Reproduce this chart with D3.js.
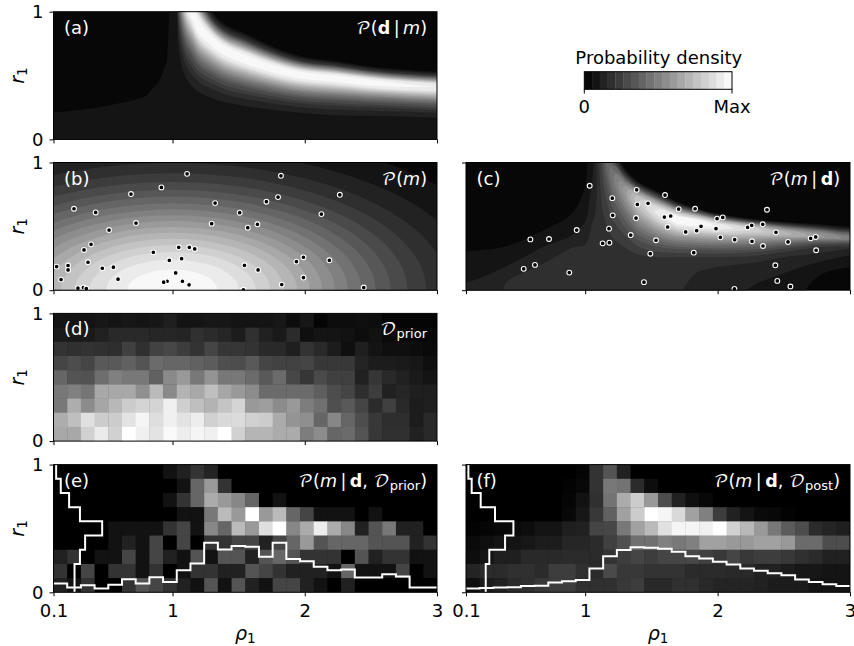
<!DOCTYPE html>
<html>
<head>
<meta charset="utf-8">
<title>Probability density panels</title>
<script src="https://cdn.jsdelivr.net/npm/d3@7"></script>
<style>
body { margin: 0; background: #fff; }
text { font-family: "DejaVu Sans", sans-serif; }
.math { font-family: "DejaVu Math TeX Gyre", "DejaVu Sans", serif; }
</style>
</head>
<body>
<div id="chart"></div>
<script>
var rhoTicks = [0.1, 1, 2, 3];
var rTicks = [0, 1];

// panels a and c are read along the bright ridge: a node t means r = ridge + t * width
// (low width under the ridge, up width over it), values are colour band units 0 to 19
var tNodes = [-9, -5, -3, -1.5, -1.25, -1, -.8, -.6, -.45, -.3, -.15, 0, .25, .5, .75, 1, 1.3, 4];

var aRho = [0.1, 0.5, 0.8, 0.9, 0.96, 0.98, 1.0, 1.033, 1.05, 1.1, 1.15, 1.2, 1.3, 1.4, 1.55, 1.7, 1.85, 2, 2.25, 2.5, 2.75, 3];
var aRidge = [1.2, 1.2, 1.2, 1.5, 2.5, 3, 3, 2.5, 1.45, 1.12, .99, .875, .77, .695, .63, .575, .53, .5, .477, .447, .425, .41];
var aLow = [.79, .75, .7, .8, 1.5, 1.5, 1.5, 1.5, .77, .635, .575, .505, .445, .405, .37, .335, .31, .295, .287, .262, .245, .24];
var aUp = [.5, .5, .5, .5, 1, 1, 1, 1, 1, .6, .5, .35, .23, .205, .2, .18, .16, .145, .133, .123, .12, .12];
var aRidgeValues = [1.4, 1.4, 1.4, 1.45, 1.6, 2, 3.3, 6, 9, 13, 17.5, 19, 17.5, 10.5, 4, 1, .6, .5];
var aValues = [
  [1.4,1.4,1.4,1.3,1,.8,.7,.6,.55,.5,.5,.5,.5,.5,.5,.5,.5,.5],
  [1.4,1.4,1.4,1.3,1,.8,.7,.6,.5,.5,.5,.5,.5,.5,.5,.5,.5,.5],
  [1.4,1.4,1.4,1.3,1.02,.8,.7,.6,.5,.5,.5,.5,.5,.5,.5,.5,.5,.5],
  [1.4,1.4,1.4,1.2,.95,.7,.6,.6,.5,.5,.5,.5,.5,.5,.5,.5,.5,.5],
  [1.4,1.4,1.4,1.3,1,.8,.6,.6,.5,.5,.5,.5,.5,.5,.5,.5,.5,.5],
  [1.4,1.4,1.4,1.2,1,.8,.6,.6,.5,.5,.5,.5,.5,.5,.5,.5,.5,.5],
  aRidgeValues, aRidgeValues, aRidgeValues, aRidgeValues, aRidgeValues, aRidgeValues, aRidgeValues, aRidgeValues,
  aRidgeValues, aRidgeValues, aRidgeValues, aRidgeValues, aRidgeValues, aRidgeValues,
  [1.4,1.4,1.4,1.45,1.6,2,3.3,6,8.9,12.8,17.2,18.5,17.2,10.3,4,1,.6,.5],
  [1.4,1.4,1.4,1.45,1.6,2,3.3,6,8.8,12.6,16.8,18,16.8,10,4,1,.6,.5]
];

var cRho = [0.1, 0.4, 0.7, 0.9, 1.0, 1.05, 1.1, 1.15, 1.2, 1.3, 1.4, 1.55, 1.7, 1.85, 2, 2.25, 2.5, 2.75, 3];
var cRidge = [1.2, 1.2, 1.2, 1.5, 2.5, 1.45, 1.12, 1.02, .875, .77, .69, .6, .54, .52, .495, .47, .44, .42, .4];
var cLow = [.79, .75, .7, .8, 1.5, .81, .6, .47, .455, .435, .41, .34, .28, .26, .235, .205, .14, .085, .055];
var cUp = [.5, .5, .5, .5, 1, 1, .6, .5, .3, .183, .16, .17, .15, .12, .105, .09, .096, .098, .097];
var cValues = [
  [2.4,2.4,2.4,2.2,1.35,.6,.3,.1,.1,.1,.1,.1,.1,.1,.1,.1,.1,.1],
  [6,6,6,2.95,1.35,.55,.35,.2,.1,.1,.1,.1,.1,.1,.1,.1,.1,.1],
  [3.9,3.9,3.9,3.5,2.2,.8,.5,.3,.2,.1,.1,.1,.1,.1,.1,.1,.1,.1],
  [3.8,3.8,3.8,3.3,1.3,.7,.4,.2,.1,.1,.1,.1,.1,.1,.1,.1,.1,.1],
  [3.8,3.8,3.8,3.6,1.5,.5,.3,.2,.1,.1,.1,.1,.1,.1,.1,.1,.1,.1],
  [3.8,3.8,3.8,3.65,3.3,2.55,2,1.65,1.5,1.5,1.5,1.5,1.5,1.5,1.5,1,.35,.1],
  [3.8,3.8,3.8,3.75,3.6,3.5,3.5,3.5,3.5,3.6,3.8,4,4,4,3,1,.35,.1],
  [3.8,3.8,3.8,3.8,3.85,4,4.36,4.9,5.4,6,6.6,7,6.7,5,2.3,1,.35,.1],
  [3.7,3.7,3.7,3.7,3.75,4,4.5,5.35,6.1,7,7.9,8.5,8.2,6.1,2.8,1,.35,.1],
  [3.7,3.7,3.7,3.7,3.8,4,4.9,6.25,7.5,9,10.5,11.5,11,8.3,3.8,1,.35,.1],
  [3.7,3.7,3.7,3.7,3.7,4,5.3,7.3,9.2,11.3,13.6,15,14.4,10.8,5,1,.35,.1],
  [3.2,3.2,3.2,3.45,3.6,4,5.6,8,10.3,12.9,15.7,17.5,16.8,12.6,5.8,1,.35,.1],
  [2.6,2.6,2.6,3.3,3.6,4,5.8,8.5,11,13.9,17,19,18.2,13.7,6.3,1,.35,.1],
  [2.5,2.5,2.5,2.95,3.2,4,5.8,8.5,11,13.9,17,19,18.2,13.7,6.3,1,.35,.1],
  [1.96,1.96,1.96,2.8,3.1,4,5.7,8.2,10.6,13.2,16.2,18,17.3,13,5.9,1,.35,.1],
  [1.4,1.4,1.4,2.5,3,4,5.4,7.6,9.6,11.9,14.4,16,15.4,11.5,5.3,1,.35,.1],
  [1.3,1.3,1.3,2.6,3.1,4,5.1,6.85,8.5,10.3,12.3,13.5,13,9.7,4.5,1,.35,.1],
  [.5,.5,1.3,3.05,3.5,4,4.9,6.25,7.5,9,10.5,11.5,11,8.3,3.8,1,.35,.1],
  [.5,.75,1.25,2.9,3.1,4,4.7,5.65,6.6,7.6,8.8,9.5,9.1,6.8,3.1,1,.35,.1]
];

// panel b bands are ellipses round rho = 1, r = 0: half width in rho and half height in r, level 1 first
var bCenter = [1, 0];
var bHalfRho = [2.64, 2.308, 2.09, 1.919, 1.776, 1.649, 1.535, 1.428, 1.326, 1.229, 1.133, 1.038, .942, .844, .74, .629, .502, .34];
var bHalfR = [1.26, 1.1, .997, .916, .847, .787, .733, .681, .633, .587, .541, .495, .45, .403, .353, .3, .24, .162];

// scattered models [rho, r]
var bPoints = [[1.11,.911],[1.82,.896],[.916,.805],[.686,.753],[2.265,.747],[1.798,.729],[1.71,.693],[1.322,.682],[.255,.638],[.419,.609],
  [1.508,.607],[2.126,.596],[.724,.526],[1.296,.521],[1.642,.516],[1.569,.49],[.52,.471],[.384,.359],[1.047,.336],[1.127,.336],
  [1.168,.323],[.331,.315],[.855,.297],[.976,.234],[1.069,.247],[1.99,.258],[2.186,.234],[1.937,.224],[.361,.219],[1.544,.195],
  [.124,.185],[.21,.193],[.21,.159],[.553,.18],[.469,.172],[1.647,.159],[1.024,.135],[1.99,.099],[.157,.083],[.588,.086],
  [1.075,.07],[.959,.07],[.933,.063],[1.125,.042],[1.826,.044],[.326,.021],[.285,.016],[.348,.013],[2.446,.021],[1.536,.003]];
var cPoints = [[1.034,.818],[1.389,.786],[1.603,.745],[1.205,.721],[1.394,.672],[1.475,.68],[1.706,.635],[1.83,.638],[2.373,.63],[1.208,.586],
  [1.384,.565],[1.598,.573],[1.646,.581],[1.996,.56],[2.039,.57],[1.623,.495],[1.875,.5],[1.842,.466],[1.759,.456],[1.988,.482],
  [.936,.471],[1.18,.482],[2.227,.492],[2.258,.508],[2.341,.516],[2.441,.453],[1.344,.432],[2.021,.414],[2.703,.406],[2.741,.417],
  [.586,.398],[.727,.401],[1.535,.391],[2.129,.396],[2.26,.383],[2.532,.378],[1.132,.367],[1.183,.372],[2.343,.346],[1.492,.286],
  [1.82,.294],[2.744,.313],[.621,.198],[.536,.167],[2.436,.195],[.88,.138],[1.444,.063],[2.451,.073],[2.55,.029],[2.127,.01]];

// binned panels, brightness in percent of max, rows from top (r = 1) to bottom
var dCells = [
  [8,8,8,9,8,9,8,9,12,8,8,9,9,8,8,8,9,5,9,2,5,5,6,5,2,2,2,2],
  [10,10,10,13,16,16,16,15,15,14,19,17,15,11,19,13,10,17,6,8,8,7,5,7,4,4,3,3],
  [20,19,20,19,18,25,19,26,28,24,20,27,21,21,20,16,16,12,20,16,11,6,12,8,6,6,5,4],
  [27,30,27,35,35,38,33,42,40,40,38,36,31,30,35,27,26,26,27,22,22,22,14,11,11,10,9,6],
  [40,33,32,43,50,47,47,38,54,60,47,58,47,47,42,35,42,28,21,29,25,25,13,21,16,13,10,8],
  [47,50,46,66,66,66,56,73,54,70,66,75,65,60,55,42,42,42,42,37,30,27,18,24,13,15,12,12],
  [47,68,55,65,72,80,83,83,94,81,75,70,77,83,60,62,55,60,49,44,31,35,27,17,25,16,11,12],
  [68,75,88,80,80,89,96,87,94,89,93,82,85,86,82,80,67,58,56,40,53,40,30,22,18,18,11,16],
  [66,66,82,92,82,100,94,89,98,93,96,94,100,82,71,71,67,67,49,55,40,42,33,22,19,19,13,16]
];
var eCells = [
  [0,0,0,0,0,0,0,0,7,13,20,14,0,0,0,0,0,0,0,0,0,0,0,0,0,0,0,0],
  [0,0,0,0,0,0,0,0,0,7,40,60,20,0,0,0,0,0,0,0,0,0,0,0,0,0,0,0],
  [0,0,0,0,0,0,0,0,7,20,40,67,60,53,40,0,7,0,0,0,0,0,0,0,0,0,0,0],
  [0,0,0,0,0,0,0,0,0,7,7,47,73,60,100,60,73,40,27,7,7,7,0,7,0,0,0,0],
  [0,0,0,0,7,7,7,7,20,27,7,53,40,73,60,87,100,53,67,93,67,53,13,33,47,13,13,0],
  [0,0,0,0,7,13,7,27,0,27,0,20,20,27,27,13,27,40,60,33,40,40,40,33,33,33,13,20],
  [13,20,0,7,7,27,7,27,13,7,33,7,33,33,13,33,40,33,20,20,20,0,33,13,20,20,7,7],
  [20,0,27,0,20,20,7,20,0,7,20,20,13,13,33,27,20,13,13,13,7,40,7,7,7,27,0,7],
  [13,7,20,0,0,20,33,27,20,13,7,33,7,33,13,7,27,27,13,7,0,13,0,0,0,0,0,0]
];
var fCells = [
  [0,0,0,0,0,0,0,0,2,20,33,13,0,0,0,0,0,0,0,0,0,0,0,0,0,0,0,0],
  [0,0,0,0,0,0,0,1,3,20,47,45,17,5,0,0,0,0,0,0,0,0,0,0,0,0,0,0],
  [0,0,0,0,0,0,0,2,7,19,45,67,80,60,30,13,6,3,0,0,0,0,0,0,0,0,0,0],
  [0,0,0,0,0,0,0,3,9,22,38,63,80,100,96,85,63,50,24,13,8,4,3,1,0,0,0,0],
  [1,2,3,4,5,8,8,12,13,27,28,47,63,73,88,96,96,94,100,82,72,60,47,36,30,17,14,12],
  [4,6,8,8,9,11,11,15,15,17,25,31,44,44,50,47,50,63,63,60,60,63,63,60,42,42,30,30],
  [5,8,12,12,16,16,16,17,17,17,20,24,27,24,27,27,28,25,22,27,22,24,24,22,19,17,13,13],
  [14,17,17,19,19,17,24,24,19,17,29,22,22,20,20,20,17,17,17,16,16,13,13,11,9,9,8,8],
  [6,11,13,17,19,22,24,24,19,19,19,22,24,16,16,19,19,16,14,14,14,13,11,11,11,8,8,8]
];

// marginal histograms drawn in white over panels e and f
var eRhoHist = [.068,.037,.055,.029,.06,.102,.068,.118,.081,.173,.226,.388,.336,.362,.357,.278,.388,.26,.244,.2,.173,.178,.115,.115,.142,.123,.037,.037];
var eRHist = [.12,.155,.218,.30,.468,.339,.30,.259,.259];
var fRhoHist = [.029,.034,.037,.039,.05,.052,.076,.087,.097,.186,.283,.331,.352,.349,.341,.318,.283,.265,.239,.218,.186,.168,.15,.134,.1,.081,.063,.05];
var fRHist = [.118,.143,.211,.319,.458,.395,.276,.249,.249];

var barTicks = ["0", "Max"];
var barBands = d3.range(19);

var width = 854, height = 646;
var panelH = 127.7;
var leftX = [53.5, 437], rightX = [466, 850];
var tops = [11.7, 162.5, 313.4, 464.6];
var fontSize = 18;

function bandColor(i) {
  var c = Math.round((i + .5) / 19 * 255);
  return "rgb(" + c + "," + c + "," + c + ")";
}
var cellColor = d3.scaleLinear().domain([0, 100]).range(["#000", "#fff"]);

var svg = d3.select("#chart").append("svg")
  .attr("width", width)
  .attr("height", height);

var clipCount = 0;

function makePanel(xRange, top, showRhoLabels, showRLabels) {
  var x = d3.scaleLinear().domain([0.1, 3]).range(xRange);
  var y = d3.scaleLinear().domain([0, 1]).range([top + panelH, top]);
  var id = "clip" + (clipCount++);
  svg.append("clipPath").attr("id", id).append("rect")
    .attr("x", xRange[0]).attr("y", top)
    .attr("width", xRange[1] - xRange[0]).attr("height", panelH);
  var marks = svg.append("g").attr("clip-path", "url(#" + id + ")");
  marks.append("rect")
    .attr("x", xRange[0]).attr("y", top)
    .attr("width", xRange[1] - xRange[0]).attr("height", panelH)
    .attr("fill", bandColor(0));
  return {x: x, y: y, marks: marks, top: top, xRange: xRange, showRho: showRhoLabels, showR: showRLabels};
}

function finishPanel(p) {
  svg.append("rect")
    .attr("x", p.xRange[0]).attr("y", p.top)
    .attr("width", p.xRange[1] - p.xRange[0]).attr("height", panelH)
    .attr("fill", "none").attr("stroke", "#000").attr("stroke-width", 1);
  var xAxis = d3.axisBottom(p.x).tickValues(rhoTicks).tickSize(4).tickPadding(8.2)
    .tickFormat(p.showRho ? d3.format("") : "");
  var yAxis = d3.axisLeft(p.y).tickValues(rTicks).tickSize(4).tickPadding(6)
    .tickFormat(p.showR ? d3.format("d") : "");
  var gx = svg.append("g").attr("transform", "translate(0," + (p.top + panelH) + ")").call(xAxis);
  var gy = svg.append("g").attr("transform", "translate(" + p.xRange[0] + ",0)").call(yAxis);
  [gx, gy].forEach(function (a) {
    a.select(".domain").remove();
    a.selectAll("text").attr("font-size", fontSize).attr("fill", "#000")
      .attr("font-family", '"DejaVu Sans", sans-serif');
  });
  if (p.showR) {
    var lab = svg.append("text")
      .attr("transform", "translate(24," + (p.top + panelH / 2) + ") rotate(-90)")
      .attr("text-anchor", "middle").attr("font-size", 19);
    lab.append("tspan").attr("font-style", "italic").text("r");
    lab.append("tspan").attr("font-size", 13.5).attr("dy", 3).text("1");
  }
  if (p.showRho) {
    var mid = (p.xRange[0] + p.xRange[1]) / 2;
    var labx = svg.append("text").attr("x", mid).attr("y", 640)
      .attr("text-anchor", "middle").attr("font-size", 19);
    labx.append("tspan").attr("font-style", "italic").text("ρ");
    labx.append("tspan").attr("font-size", 13.5).attr("dy", 3).text("1");
  }
}

function drawRidge(p, rhoGrid, ridge, low, up, values) {
  var n = rhoGrid.length, m = tNodes.length;
  var colIdx = [-1].concat(d3.range(n), [n]);
  var xi = d3.scaleLinear().domain(colIdx)
    .range([p.x(0.1) - 24].concat(rhoGrid.map(p.x), [p.x(3) + 24]));
  var edge = function (a) { return [a[0]].concat(a, [a[n - 1]]); };
  var ridgeAt = d3.scaleLinear().domain(colIdx).range(edge(ridge));
  var lowAt = d3.scaleLinear().domain(colIdx).range(edge(low));
  var upAt = d3.scaleLinear().domain(colIdx).range(edge(up));
  var tAt = d3.scaleLinear().domain([-1].concat(d3.range(m), [m]))
    .range([tNodes[0] - 3].concat(tNodes, [tNodes[m - 1] + 3]));
  var flat = [];
  for (var j = -1; j <= m; j++) {
    for (var i = -1; i <= n; i++) {
      flat.push(values[Math.max(0, Math.min(n - 1, i))][Math.max(0, Math.min(m - 1, j))]);
    }
  }
  var contours = d3.contours().size([n + 2, m + 2]).thresholds(d3.range(1, 19))(flat);
  var ring = d3.line()
    .x(function (d) { return xi(d[0] - 1.5); })
    .y(function (d) {
      var col = d[0] - 1.5, t = tAt(d[1] - 1.5);
      return p.y(ridgeAt(col) + t * (t < 0 ? lowAt(col) : upAt(col)));
    })
    .curve(d3.curveCatmullRomClosed.alpha(.5));
  p.marks.selectAll("path.band").data(contours).enter().append("path")
    .attr("class", "band")
    .attr("fill", function (d) { return bandColor(d.value); })
    .attr("fill-rule", "evenodd")
    .attr("d", function (d) {
      return d.coordinates.map(function (poly) {
        return poly.map(function (r) { return ring(r.slice(0, -1)); }).join("");
      }).join("");
    });
}

function drawEllipses(p) {
  p.marks.selectAll("ellipse").data(bHalfRho).enter().append("ellipse")
    .attr("cx", p.x(bCenter[0]))
    .attr("cy", p.y(bCenter[1]))
    .attr("rx", function (d) { return p.x(bCenter[0] + d) - p.x(bCenter[0]); })
    .attr("ry", function (d, i) { return p.y(bCenter[1]) - p.y(bCenter[1] + bHalfR[i]); })
    .attr("fill", function (d, i) { return bandColor(i + 1); });
}

function drawCells(p, cells) {
  var col = d3.scaleBand().domain(d3.range(28)).range(p.xRange);
  var row = d3.scaleBand().domain(d3.range(9)).range([p.top, p.top + panelH]);
  cells.forEach(function (vals, j) {
    p.marks.selectAll("rect.r" + j).data(vals).enter().append("rect")
      .attr("class", "r" + j)
      .attr("x", function (d, i) { return col(i); })
      .attr("y", row(j))
      .attr("width", col.bandwidth() + .4)
      .attr("height", row.bandwidth() + .4)
      .attr("fill", function (d) { return cellColor(d); });
  });
}

function drawPoints(p, pts) {
  p.marks.selectAll("circle").data(pts).enter().append("circle")
    .attr("cx", function (d) { return p.x(d[0]); })
    .attr("cy", function (d) { return p.y(d[1]); })
    .attr("r", 2.4)
    .attr("fill", "#000")
    .attr("stroke", "#fff")
    .attr("stroke-width", 1.1);
}

function drawHists(p, rhoHist, rHist) {
  var col = d3.scaleBand().domain(d3.range(28)).range(p.xRange);
  var row = d3.scaleBand().domain(d3.range(9)).range([p.top, p.top + panelH]);
  var line = d3.line();
  var a = rhoHist.flatMap(function (v, i) {
    return [[col(i), p.y(v)], [col(i) + col.bandwidth(), p.y(v)]];
  });
  var b = rHist.flatMap(function (v, j) {
    return [[p.x(v), row(j)], [p.x(v), row(j) + row.bandwidth()]];
  });
  [a, b].forEach(function (pts) {
    p.marks.append("path").attr("d", line(pts))
      .attr("fill", "none").attr("stroke", "#fff").attr("stroke-width", 2);
  });
}

// parts: [text, kind], kind is cal, bold, ital, sub, back or empty
function mathTitle(p, parts) {
  var t = svg.append("text")
    .attr("x", p.xRange[1] - 10).attr("y", p.top + 22)
    .attr("text-anchor", "end").attr("fill", "#fff").attr("font-size", 17.5);
  parts.forEach(function (q) {
    var s = t.append("tspan").text(q[0]);
    if (q[1] == "cal") s.attr("class", "math");
    if (q[1] == "bold") s.attr("font-weight", "bold");
    if (q[1] == "ital") s.attr("font-style", "italic");
    if (q[1] == "sub") s.attr("font-size", 13).attr("dy", 3);
    if (q[1] == "back") s.attr("dy", -3);
  });
}

function panelLabel(p, txt) {
  svg.append("text").attr("x", p.xRange[0] + 10.5).attr("y", p.top + 22)
    .attr("fill", "#fff").attr("font-size", fontSize).text(txt);
}

var pa = makePanel(leftX, tops[0], false, true);
drawRidge(pa, aRho, aRidge, aLow, aUp, aValues);
finishPanel(pa);
panelLabel(pa, "(a)");
mathTitle(pa, [["𝒫", "cal"], ["("], ["d", "bold"], ["\u2009|\u2009"], ["m", "ital"], [")"]]);

var pb = makePanel(leftX, tops[1], false, true);
drawEllipses(pb);
drawPoints(pb, bPoints);
finishPanel(pb);
panelLabel(pb, "(b)");
mathTitle(pb, [["𝒫", "cal"], ["("], ["m", "ital"], [")"]]);

var pc = makePanel(rightX, tops[1], false, false);
drawRidge(pc, cRho, cRidge, cLow, cUp, cValues);
drawPoints(pc, cPoints);
finishPanel(pc);
panelLabel(pc, "(c)");
mathTitle(pc, [["𝒫", "cal"], ["("], ["m", "ital"], ["\u2009|\u2009"], ["d", "bold"], [")"]]);

var pd = makePanel(leftX, tops[2], false, true);
drawCells(pd, dCells);
finishPanel(pd);
panelLabel(pd, "(d)");
mathTitle(pd, [["𝒟", "cal"], ["prior", "sub"]]);

var pe = makePanel(leftX, tops[3], true, true);
drawCells(pe, eCells);
drawHists(pe, eRhoHist, eRHist);
finishPanel(pe);
panelLabel(pe, "(e)");
mathTitle(pe, [["𝒫", "cal"], ["("], ["m", "ital"], ["\u2009|\u2009"], ["d", "bold"], [", "], ["𝒟", "cal"], ["prior", "sub"], [")", "back"]]);

var pf = makePanel(rightX, tops[3], true, false);
drawCells(pf, fCells);
drawHists(pf, fRhoHist, fRHist);
finishPanel(pf);
panelLabel(pf, "(f)");
mathTitle(pf, [["𝒫", "cal"], ["("], ["m", "ital"], ["\u2009|\u2009"], ["d", "bold"], [", "], ["𝒟", "cal"], ["post", "sub"], [")", "back"]]);

// colour bar
var barX = d3.scaleBand().domain(barBands).range([584.3, 732]);
var bar = svg.append("g");
bar.selectAll("rect").data(barBands).enter().append("rect")
  .attr("x", function (d) { return barX(d); })
  .attr("y", 71.7)
  .attr("width", barX.bandwidth() + .3)
  .attr("height", 17.6)
  .attr("fill", function (d) { return bandColor(d); });
bar.append("rect").attr("x", 584.3).attr("y", 71.7).attr("width", 147.7).attr("height", 17.6)
  .attr("fill", "none").attr("stroke", "#000").attr("stroke-width", 1);
bar.selectAll("line").data(barTicks).enter().append("line")
  .attr("x1", function (d, i) { return barX.range()[i]; })
  .attr("x2", function (d, i) { return barX.range()[i]; })
  .attr("y1", 89.3).attr("y2", 93.5)
  .attr("stroke", "#000");
bar.selectAll("text.tick").data(barTicks).enter().append("text")
  .attr("class", "tick")
  .attr("x", function (d, i) { return barX.range()[i]; })
  .attr("y", 113.3)
  .attr("text-anchor", "middle").attr("font-size", fontSize)
  .text(function (d) { return d; });
bar.append("text").attr("x", 658.8).attr("y", 63.5)
  .attr("text-anchor", "middle").attr("font-size", fontSize)
  .text("Probability density");
</script>
</body>
</html>
